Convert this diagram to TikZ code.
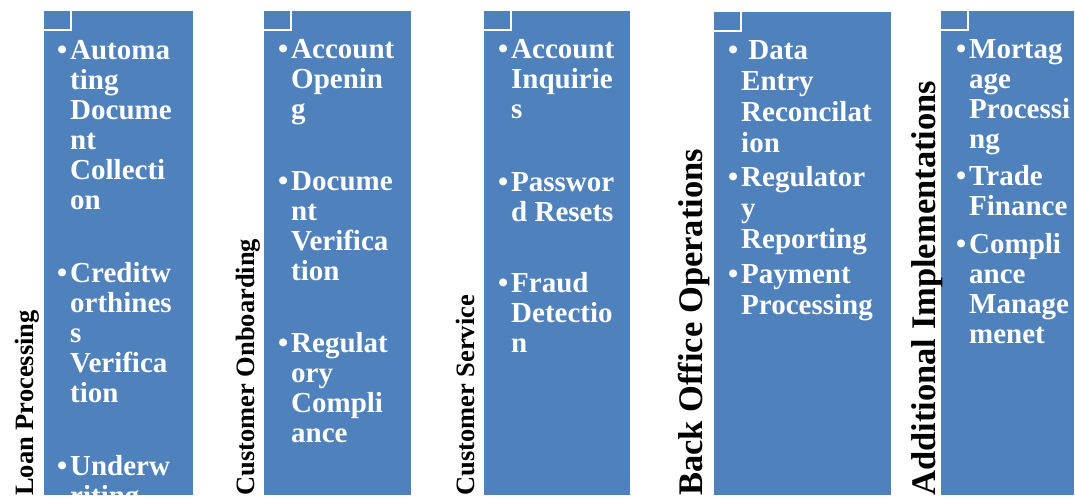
\documentclass[tikz,border=0pt]{standalone}
\usepackage{fontspec}
\setmainfont{Liberation Serif}
\definecolor{boxblue}{RGB}{79,129,189}
\begin{document}
\begin{tikzpicture}[x=1pt,y=-1pt,
    box/.style={fill=boxblue,draw=none,anchor=north west,inner sep=0pt},
    notch/.style={draw=white,line width=2.5pt},
    lbl/.style={rotate=90,anchor=base west,inner sep=0pt,font=\bfseries},
    item/.style={anchor=base west,align=left,inner sep=0pt,text=white,
      font=\fontsize{29}{30}\selectfont\bfseries}]
                \useasboundingbox (0,0) rectangle (1075,498);
                \clip (0,0) rectangle (1075,498);
                % blue columns
                \path (44,11) node[box,minimum width=149pt,minimum height=484pt] (b1) {};
                \path (264,11) node[box,minimum width=147pt,minimum height=484pt] (b2) {};
                \path (484,11) node[box,minimum width=146pt,minimum height=484pt] (b3) {};
                \path (714,12) node[box,minimum width=177pt,minimum height=483pt] (b4) {};
                \path (941,11) node[box,minimum width=133pt,minimum height=484pt] (b5) {};
                \foreach \b in {b1,b2,b3,b4,b5}
                  \draw[notch] ([xshift=27pt]\b.north west) |- ([yshift=-19pt]\b.north west);

                % side labels
                \path (33,496) node[lbl,font=\fontsize{26.5}{28}\selectfont\bfseries] (l1) {Loan Processing};
                \path (254,496) node[lbl,font=\fontsize{26.5}{28}\selectfont\bfseries] (l2) {Customer Onboarding};
                \path (474,496) node[lbl,font=\fontsize{26.5}{28}\selectfont\bfseries] (l3) {Customer Service};
                \path (702,496) node[lbl,font=\fontsize{34.5}{36}\selectfont\bfseries] (l4) {Back Office Operations};
                \path (935,496) node[lbl,font=\fontsize{34.5}{36}\selectfont\bfseries] (l5) {Additional Implementations};

                % bullet items (placed by the baseline of their last line)
                \begin{scope}[every node/.append style={item}]
                  \path (70,209) node (i11) {\llap{\textbullet\hspace{3pt}}Automa\\ting\\Docume\\nt\\Collecti\\on};
                  \path (70,402) node (i12) {\llap{\textbullet\hspace{3pt}}Creditw\\orthines\\s\\Verifica\\tion};
                  \path (70,505) node (i13) {\llap{\textbullet\hspace{3pt}}Underw\\riting};

                  \path (291,118) node (i21) {\llap{\textbullet\hspace{3pt}}Account\\Openin\\g};
                  \path (291,280) node (i22) {\llap{\textbullet\hspace{3pt}}Docume\\nt\\Verifica\\tion};
                  \path (291,442) node (i23) {\llap{\textbullet\hspace{3pt}}Regulat\\ory\\Compli\\ance};

                  \path (511,118) node (i31) {\llap{\textbullet\hspace{3pt}}Account\\Inquirie\\s};
                  \path (511,221) node (i32) {\llap{\textbullet\hspace{3pt}}Passwor\\d Resets};
                  \path (511,352) node (i33) {\llap{\textbullet\hspace{3pt}}Fraud\\Detectio\\n};

                  \path (741,152) node[font=\fontsize{29}{31}\selectfont\bfseries] (i41) {\llap{\textbullet\hspace{3pt}}\ Data\\Entry\\Reconcilat\\ion};
                  \path (741,248) node[font=\fontsize{29}{31}\selectfont\bfseries] (i42) {\llap{\textbullet\hspace{3pt}}Regulator\\y\\Reporting};
                  \path (741,314) node[font=\fontsize{29}{31}\selectfont\bfseries] (i43) {\llap{\textbullet\hspace{3pt}}Payment\\Processing};

                  \path (969,148) node (i51) {\llap{\textbullet\hspace{3pt}}Mortag\\age\\Processi\\ng};
                  \path (969,215) node (i52) {\llap{\textbullet\hspace{3pt}}Trade\\Finance};
                  \path (969,343) node (i53) {\llap{\textbullet\hspace{3pt}}Compli\\ance\\Manage\\menet};
                \end{scope}
              \end{tikzpicture}
\end{document}
